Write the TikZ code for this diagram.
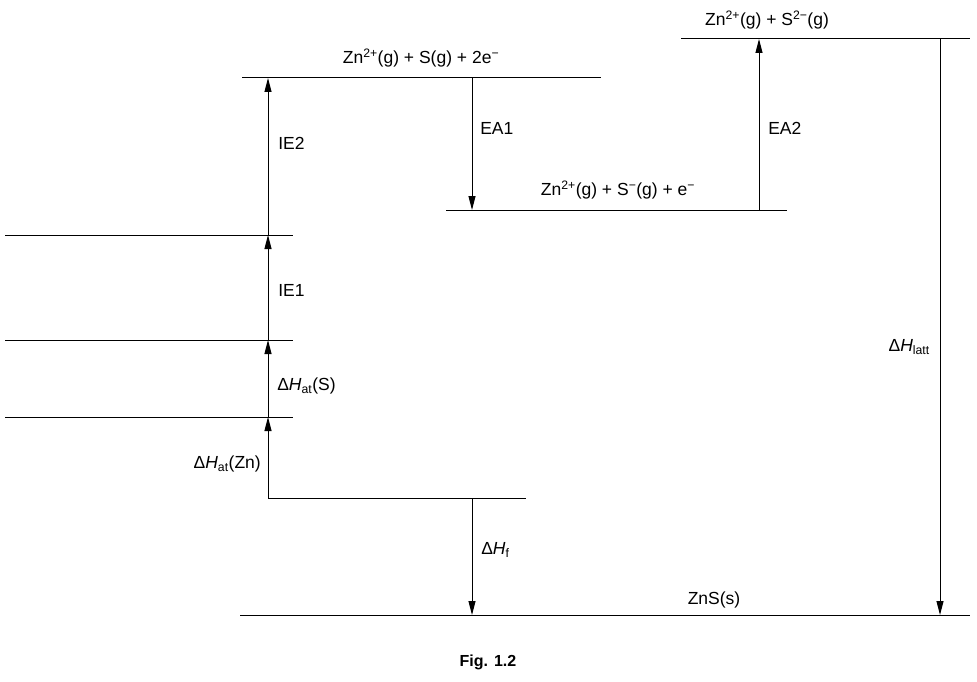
\documentclass[tikz,border=0pt]{standalone}
\usepackage{fontspec}
\setmainfont{Liberation Sans}
\usetikzlibrary{arrows.meta}
\tikzset{every picture/.style={line width=1pt},
  level/.style={line width=1pt},
  change/.style={-{Triangle[length=14pt,width=7pt]}},
  lbl/.style={inner sep=0.75pt,font=\fontsize{17.5}{20}\selectfont}}
\newcommand{\dH}[1]{Δ\textit{H}\textsubscript{#1}}
\begin{document}
\begin{tikzpicture}[x=1pt,y=1pt,yscale=-1,xscale=1]
\useasboundingbox (0,0) rectangle (977,682);

%Levels
\draw [level] (681,39) -- (970,39) ;
\draw [level] (242,78) -- (601,78) ;
\draw [level] (446,210) -- (787,210) ;
\draw [level] (5,235) -- (293,235) ;
\draw [level] (5,340) -- (293,340) ;
\draw [level] (5,417) -- (293,417) ;
\draw [level] (268,498) -- (526,498) ;
\draw [level] (240,615) -- (970,615) ;

%Arrow ends
\coordinate (zn0) at (268,498);
\coordinate (zn1) at (268,417);
\coordinate (zn2) at (268,340);
\coordinate (zn3) at (268,235);
\coordinate (zn4) at (268,78);
\coordinate (ea1a) at (472,78);
\coordinate (ea1b) at (472,210);
\coordinate (ea2a) at (759,210);
\coordinate (ea2b) at (759,39);
\coordinate (hfa) at (472,498);
\coordinate (hfb) at (472,615);
\coordinate (lta) at (940,39);
\coordinate (ltb) at (940,615);

%Arrows
\draw [change] (zn0) -- (zn1) ;
\draw [change] (zn1) -- (zn2) ;
\draw [change] (zn2) -- (zn3) ;
\draw [change] (zn3) -- (zn4) ;
\draw [change] (ea1a) -- (ea1b) ;
\draw [change] (ea2a) -- (ea2b) ;
\draw [change] (hfa) -- (hfb) ;
\draw [change] (lta) -- (ltb) ;

% Text Node
\node (top) [lbl] at (767,20) {Zn\textsuperscript{2+}(g) + S\textsuperscript{2−}(g)};
% Text Node
\node (ion2) [lbl] at (421,58) {Zn\textsuperscript{2+}(g) + S(g) + 2e\textsuperscript{−}};
% Text Node
\node (ion1) [lbl] at (618,190) {Zn\textsuperscript{2+}(g) + S\textsuperscript{−}(g) + e\textsuperscript{−}};
% Text Node
\node (zns) [lbl] at (714,600) {ZnS(s)};
% Text Node
\node (ie2) [lbl,anchor=west] at (277,143) {IE2};
% Text Node
\node (ie1) [lbl,anchor=west] at (277,290) {IE1};
% Text Node
\node (hats) [lbl,anchor=west] at (276,386) {\dH{at}(S)};
% Text Node
\node (hatzn) [lbl,anchor=east] at (262,464) {\dH{at}(Zn)};
% Text Node
\node (ea1) [lbl,anchor=west] at (479,128) {EA1};
% Text Node
\node (ea2) [lbl,anchor=west] at (767,128) {EA2};
% Text Node
\node (hf) [lbl,anchor=west] at (480,550) {\dH{f}};
% Text Node
\node (hl) [lbl,anchor=east] at (931,347) {\dH{latt}};
% Text Node
\node (fig) [lbl,font=\fontsize{16}{19}\selectfont\bfseries] at (488,662) {Fig. 1.2};

\end{tikzpicture}
\end{document}
